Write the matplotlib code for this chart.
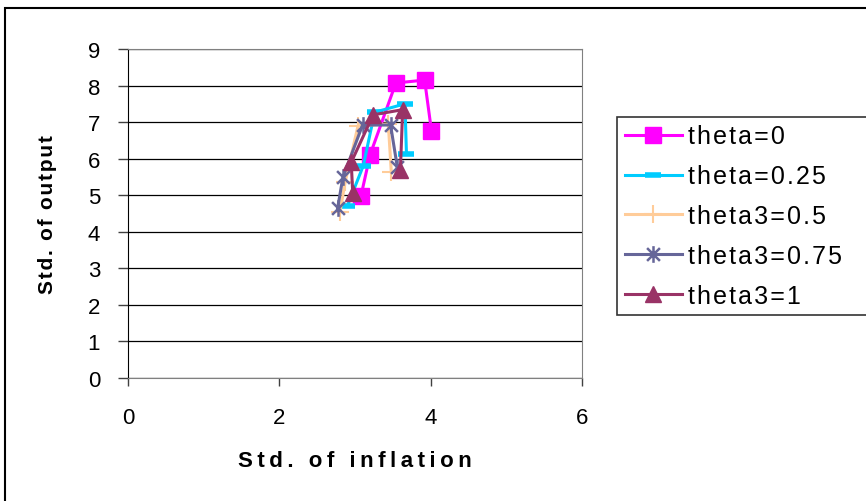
import matplotlib.pyplot as plt
from matplotlib.patches import Rectangle
from matplotlib.path import Path

plt.rcParams['font.family'] = ['Liberation Sans', 'DejaVu Sans']

labels = ["theta=0", "theta=0.25", "theta3=0.5", "theta3=0.75", "theta3=1"]

x_theta0 = [3.08, 3.20, 3.54, 3.92, 4.01]
y_theta0 = [4.99, 6.11, 8.07, 8.15, 6.77]

x_theta025 = [2.90, 3.11, 3.26, 3.66, 3.68]
y_theta025 = [4.71, 5.81, 7.27, 7.50, 6.13]

x_theta05 = [2.80, 2.87, 3.04, 3.44, 3.48]
y_theta05 = [4.53, 5.36, 6.90, 6.95, 5.63]

x_theta075 = [2.77, 2.84, 3.10, 3.47, 3.56]
y_theta075 = [4.64, 5.49, 6.92, 6.92, 5.76]

x_theta1 = [2.97, 2.95, 3.24, 3.63, 3.60]
y_theta1 = [5.06, 5.90, 7.20, 7.34, 5.70]

xs = [x_theta0, x_theta025, x_theta05, x_theta075, x_theta1]
ys = [y_theta0, y_theta025, y_theta05, y_theta075, y_theta1]
colors = ["#FF00FF", "#00CCFF", "#FFCC99", "#666699", "#993366"]

# excel style asterisk: an x with a vertical stroke
star = Path([(-1, -1), (1, 1), (-1, 1), (1, -1), (0, -1.3), (0, 1.3)],
            [Path.MOVETO, Path.LINETO, Path.MOVETO, Path.LINETO, Path.MOVETO, Path.LINETO])
markers = ["s", "_", "+", star, "^"]
msizes = [12, 12, 13, 12, 12]
mews = [1, 4, 1.5, 1.8, 1]


def spaced(text, gap="\u200a"):
    """Fake the wide letter spacing of the original with hair spaces."""
    return gap.join(text)


def main():
    fig = plt.figure(figsize=(8.66, 5.02), dpi=100)
    ax = fig.add_axes([128 / 866, 1 - 379 / 502, (582 - 128) / 866, (379 - 50) / 502])

    for x, y, c, m, ms, mew, lab in zip(xs, ys, colors, markers, msizes, mews, labels):
        ax.plot(x, y, color=c, lw=2.2, marker=m, markersize=ms,
                markeredgewidth=mew, markerfacecolor=c, markeredgecolor=c,
                label=spaced(lab))

    ax.set_xlim(0, 6)
    ax.set_ylim(0, 9)
    ax.set_xticks([0, 2, 4, 6])
    ax.set_yticks(range(10))
    ax.yaxis.grid(True, color="black", lw=0.9)
    ax.set_axisbelow(True)
    ax.tick_params(axis="y", labelsize=16, length=7, width=1, color="#404040", pad=13)
    ax.tick_params(axis="x", labelsize=16, length=6, width=1, color="#404040", pad=15)
    for side in ["top", "right", "bottom"]:
        ax.spines[side].set_color("#808080")
    ax.spines["left"].set_color("black")

    ax.set_xlabel(spaced("Std. of inflation", "\u2009"), fontsize=16, fontweight="bold", labelpad=16)
    ax.set_ylabel(spaced("Std. of output"), fontsize=15, fontweight="bold", labelpad=22)

    leg = ax.legend(loc="upper left", mode="expand",
                    bbox_to_anchor=(617 / 866, 1 - 312 / 502, (900 - 617) / 866, (312 - 118) / 502),
                    bbox_transform=fig.transFigure,
                    fontsize=18, frameon=True, fancybox=False, edgecolor="black",
                    handlelength=2.3, borderpad=0.3, labelspacing=0.63, handletextpad=0.25,
                    borderaxespad=0)
    leg.get_frame().set_linewidth(1.2)

    fig.patches.append(Rectangle((5 / 866, -20 / 502), 900 / 866, (502 + 20 - 9) / 502,
                                 transform=fig.transFigure, fill=False,
                                 edgecolor="black", lw=1.5))

    fig.savefig("out.png", dpi=100)


if __name__ == "__main__":
    main()
